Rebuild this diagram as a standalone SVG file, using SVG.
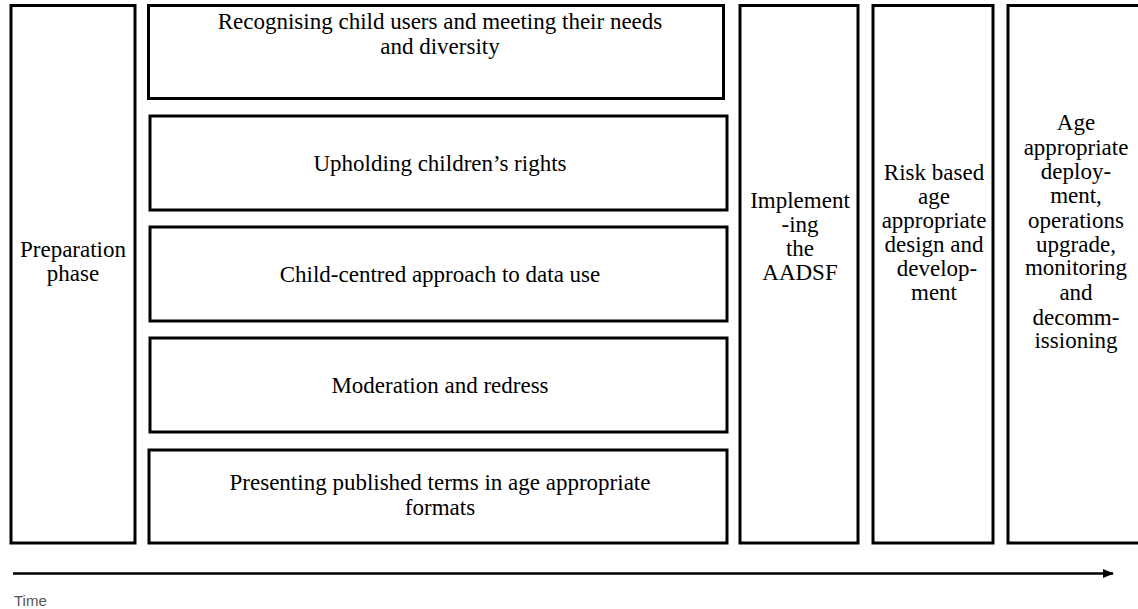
<svg xmlns="http://www.w3.org/2000/svg" width="1138" height="609" viewBox="0 0 1138 609">
<style>
.box{fill:#fff;stroke:#000;stroke-width:3}
.t{font-family:"Liberation Serif","Times New Roman",serif;font-size:23px;fill:#000;text-anchor:middle}
.time{font-family:"Liberation Sans",Arial,sans-serif;font-size:15px;fill:#555}
</style>
<defs>
<marker id="ah" markerWidth="11" markerHeight="9" refX="10" refY="4.5" orient="auto" markerUnits="userSpaceOnUse">
<path d="M0,0 L11,4.5 L0,9 Z" fill="#000"/>
</marker>
</defs>
<rect width="1138" height="609" fill="#fff"/>
<g id="prep"><rect class="box" x="11" y="5.5" width="124" height="537.5"/>
<text class="t" x="73" y="257">Preparation</text><text class="t" x="73" y="281">phase</text></g>
<g id="p1"><rect class="box" x="148.5" y="5.5" width="575" height="93"/>
<text class="t" x="440" y="29">Recognising child users and meeting their needs</text><text class="t" x="440" y="54">and diversity</text></g>
<g id="p2"><rect class="box" x="150" y="116" width="577" height="94"/>
<text class="t" x="440" y="171">Upholding children’s rights</text></g>
<g id="p3"><rect class="box" x="150" y="227" width="577" height="94"/>
<text class="t" x="440" y="282">Child-centred approach to data use</text></g>
<g id="p4"><rect class="box" x="150" y="338" width="577" height="94"/>
<text class="t" x="440" y="393">Moderation and redress</text></g>
<g id="p5"><rect class="box" x="149" y="450" width="578" height="93"/>
<text class="t" x="440" y="490">Presenting published terms in age appropriate</text><text class="t" x="440" y="515">formats</text></g>
<g id="impl"><rect class="box" x="740" y="5.5" width="118" height="537.5"/>
<text class="t" x="800" y="208">Implement</text><text class="t" x="800" y="232">-ing</text><text class="t" x="800" y="256">the</text><text class="t" x="800" y="280">AADSF</text></g>
<g id="risk"><rect class="box" x="873" y="5.5" width="120" height="537.5"/>
<text class="t" x="934" y="180">Risk based</text><text class="t" x="934" y="204">age</text><text class="t" x="934" y="228">appropriate</text><text class="t" x="934" y="252">design and</text><text class="t" x="937" y="276" fill="#333">develop-</text><text class="t" x="934" y="300">ment</text></g>
<g id="deploy"><rect class="box" x="1008" y="5.5" width="140" height="537.5"/>
<text class="t" x="1076" y="130">Age</text><text class="t" x="1076" y="155">appropriate</text><text class="t" x="1076" y="179">deploy-</text><text class="t" x="1076" y="203">ment,</text><text class="t" x="1076" y="228">operations</text><text class="t" x="1076" y="252">upgrade,</text><text class="t" x="1076" y="275">monitoring</text><text class="t" x="1076" y="300">and</text><text class="t" x="1076" y="325">decomm-</text><text class="t" x="1076" y="348">issioning</text></g>
<g id="connectors"><line x1="13" y1="573.5" x2="1113" y2="573.5" stroke="#000" stroke-width="2.5" marker-end="url(#ah)"/></g>
<text class="time" x="14" y="606">Time</text>
</svg>
